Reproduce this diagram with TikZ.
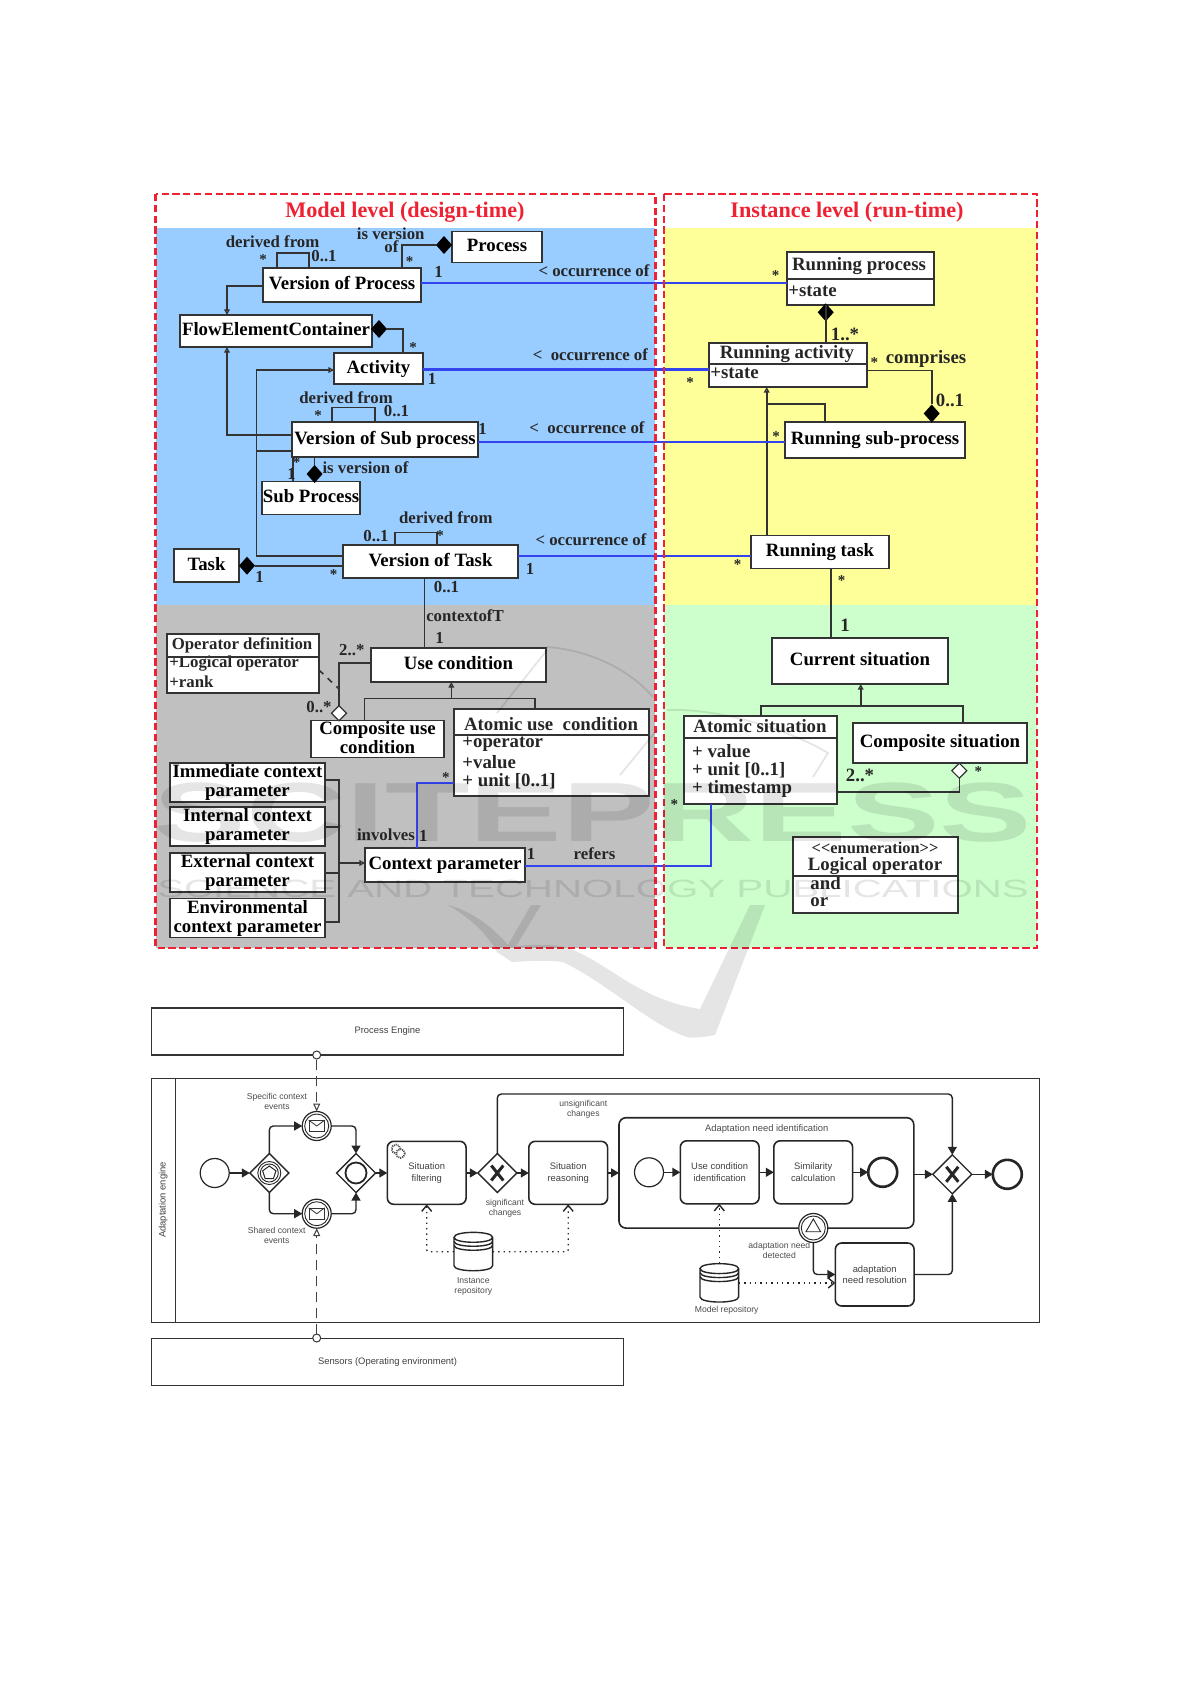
\documentclass[tikz,border=0pt]{standalone}
\usepackage{fontspec}
\setmainfont{Liberation Serif}
\setsansfont{Liberation Sans}
\usetikzlibrary{arrows.meta,shapes.geometric}
\definecolor{modelblue}{HTML}{99CCFF}
\definecolor{modelgray}{HTML}{C0C0C0}
\definecolor{runyellow}{HTML}{FFFF99}
\definecolor{rungreen}{HTML}{CCFFCC}
\definecolor{framered}{HTML}{EE2233}
\definecolor{linkblue}{HTML}{3344EE}
\definecolor{umlgray}{HTML}{333333}
\newcommand{\umlfont}{\fontsize{9.4}{9.5}\selectfont\bfseries}
\newcommand{\labfont}{\fontsize{8.4}{9.5}\selectfont\bfseries}
\newcommand{\bpmnfont}{\fontsize{4.7}{5.8}\selectfont\sffamily}
\newcommand{\notefont}{\fontsize{4.3}{5}\selectfont\sffamily}
\tikzset{
  levelframe/.style={draw=framered,line width=1.1pt,dash pattern=on 3.6pt off 1.8pt},
  leveltitle/.style={text=framered,inner sep=0pt,font=\fontsize{11.1}{12}\selectfont\bfseries},
  umlbox/.style 2 args={draw=umlgray,fill=white,line width=.9pt,inner sep=0pt,outer sep=0pt,text depth=2pt,
    minimum width=#1*.5pt,minimum height=#2*.5pt,align=center,font=\umlfont},
  umltext/.style={inner sep=0pt,align=center,text=black!85,font=\umlfont},
  umllab/.style={umltext,font=\labfont},
  umlstar/.style={umltext,yshift=-1.5pt,font=\fontsize{7.5}{8}\selectfont\bfseries},
  umlattr/.style={umltext,anchor=west},
  umlconn/.style={draw=umlgray,line width=.8pt},
  gentip/.style={-{Triangle[fill=white,length=2.8pt,width=2.8pt]}},
  blackdia/.style={diamond,aspect=1,fill=black,inner sep=0pt,outer sep=0pt,minimum width=8pt,minimum height=9pt},
  whitedia/.style={diamond,aspect=1,draw=umlgray,fill=white,line width=.6pt,inner sep=0pt,outer sep=0pt,minimum width=7.5pt,minimum height=7.5pt},
  poolbox/.style 2 args={draw=black!80,line width=.7pt,inner sep=0pt,outer sep=0pt,
    minimum width=#1*.5pt,minimum height=#2*.5pt,text=black!75,font=\bpmnfont},
  taskbox/.style={draw=black!85,fill=white,rounded corners=3.2pt,line width=.8pt,inner sep=0pt,outer sep=0pt,
    minimum width=39.4pt,minimum height=31.5pt,align=center,text=black!75,font=\bpmnfont},
  evstart/.style={circle,draw=black!85,fill=white,line width=.6pt,inner sep=0pt,outer sep=0pt,minimum size=14.5pt},
  evend/.style={evstart,line width=1.3pt},
  evinner/.style={circle,draw=black!85,line width=.45pt,inner sep=0pt,outer sep=0pt,minimum size=#1*.5pt},
  gate/.style={diamond,aspect=1,draw=black!85,fill=white,line width=.7pt,inner sep=0pt,outer sep=0pt,minimum width=19.5pt,minimum height=19.5pt},
  note/.style={inner sep=0pt,align=center,text=black!70,font=\notefont},
  flow/.style={draw=black!85,line width=.7pt,rounded corners=2pt,-{Triangle[length=4pt,width=4.5pt]}},
  assoc/.style={draw=black!85,line width=.7pt,dotted,rounded corners=1pt,-{Straight Barb[length=3pt,width=5pt,sep=0pt]}},
  msgflow/.style={draw=black!75,line width=.5pt,dash pattern=on 5pt off 3pt,-{Triangle[fill=white,length=4pt,width=3.5pt]}},
  repo/.pic={
    \draw[black!85,line width=.7pt,fill=white] (-19.3,-14.4) -- (-19.3,14) .. controls (-19.3,20.7) and (19.3,20.7) .. (19.3,14) -- (19.3,-14.4)
      .. controls (19.3,-21) and (-19.3,-21) .. (-19.3,-14.4) .. controls (-19.3,-7.8) and (19.3,-7.8) .. (19.3,-14.4);
    \draw[black!85,line width=.7pt] (-19.3,-10.4) .. controls (-19.3,-3.8) and (19.3,-3.8) .. (19.3,-10.4);
    \draw[black!85,line width=.7pt] (-19.3,-6.4) .. controls (-19.3,.2) and (19.3,.2) .. (19.3,-6.4);
  }
}
\begin{document}
\begin{tikzpicture}[x=.5pt,y=-.5pt]
\useasboundingbox (0,0) rectangle (1191,1684);

\fill[modelblue] (156,228) rectangle (655,605);
\fill[modelgray] (156,605) rectangle (655,948);
\fill[runyellow] (664,228) rectangle (1037,605);
\fill[rungreen] (664,605) rectangle (1037,948);
\node[leveltitle] (titleM) at (405,212) {Model level (design-time)};
\node[leveltitle] (titleI) at (847,212) {Instance level (run-time)};

\begin{scope}
    \node[umlbox={90}{31}] (process) at (497,247) {Process};
    \node[umlbox={158}{34}] (vproc) at (342,285) {Version of Process};
    \node[umlbox={192}{32}] (flow) at (276,331) {FlowElementContainer};
    \node[umlbox={89}{31}] (activity) at (378.5,368.5) {Activity};
    \node[umlbox={186}{35}] (vsub) at (385,439.5) {Version of Sub process};
    \node[umlbox={98}{33}] (subproc) at (311,498) {Sub Process};
    \node[umlbox={65}{33}] (task) at (206.5,565.5) {Task};
    \node[umlbox={175}{33}] (vtask) at (430.5,561.5) {Version of Task};
    \node[umlbox={175}{34}] (usecond) at (458.5,665) {Use condition};
    \node[umlbox={133}{37}] (compcond) at (377.5,739) {Composite use\\condition};
    \node[umlbox={152}{59}] (opdef) at (243,663.5) {};
    \node[umlbox={195}{87}] (atomcond) at (551.5,752.5) {};
    \node[umlbox={155}{39}] (immed) at (247.5,782.5) {Immediate context\\parameter};
    \node[umlbox={155}{39}] (internal) at (247.5,826.5) {Internal context\\parameter};
    \node[umlbox={155}{39}] (external) at (247.5,872.5) {External context\\parameter};
    \node[umlbox={155}{39}] (environ) at (247.5,918) {Environmental\\context parameter};
    \node[umlbox={160}{34}] (ctxparam) at (445,865) {Context parameter};
    \node[umlbox={147}{53}] (rproc) at (860.5,278.5) {};
    \node[umlbox={158}{44}] (ractiv) at (788,365) {};
    \node[umlbox={180}{36}] (rsub) at (875,440) {Running sub-process};
    \node[umlbox={138}{33}] (rtask) at (820,552) {Running task};
    \node[umlbox={176}{46}] (cursit) at (860,661) {Current situation};
    \node[umlbox={153}{88}] (atomsit) at (760.5,760) {};
    \node[umlbox={174}{40}] (compsit) at (940,743) {Composite situation};
    \node[umlbox={165}{76}] (logop) at (875.5,875) {};
\end{scope}

\begin{scope}[every node/.style={umltext}]
    \node[umllab] (opdefT) at (242,645.7) {Operator definition};
    \node (atomcondT) at (551,724) {Atomic use \ condition};
    \node (rprocT) at (859,266) {Running process};
    \node (ractivT) at (787,354) {Running activity};
    \node (atomsitT) at (760,726) {Atomic situation};
    \node (enumT) at (875,848) {\fontsize{8.2}{9}\selectfont {<}{<}enumeration{>}{>}};
    \node (logopT) at (875,866) {Logical operator};
\end{scope}

\begin{scope}[every node/.style={umlattr}]
    \node[font=\labfont] (opdefA) at (169,664) {+Logical operator};
    \node[font=\labfont] (opdefB) at (169,681.7) {+rank};
    \node (atomcondA) at (462,744) {+operator};
    \node (atomcondB) at (462,762) {+value};
    \node (atomcondC) at (462,781) {+ unit [0..1]};
    \node (rprocA) at (788,291) {+state};
    \node (ractivA) at (710,373) {+state};
    \node (atomsitA) at (691.7,751) {+ value};
    \node (atomsitB) at (691.7,770) {+ unit [0..1]};
    \node (atomsitC) at (691.7,789) {+ timestamp};
    \node (logopA) at (810,883) {and};
    \node (logopB) at (810,901.7) {or};
\end{scope}

\node[blackdia] (diaProc) at (444,245) {};
\node[blackdia] (diaFlow) at (379,329) {};
\node[blackdia] (diaSub) at (314.6,474) {};
\node[blackdia] (diaTask) at (247,565.7) {};
\node[blackdia] (diaRproc) at (825.7,312.3) {};
\node[blackdia] (diaRsub) at (931.7,413.5) {};
\node[whitedia] (diaOp) at (339,713.3) {};
\node[whitedia] (diaSit) at (959.3,770.7) {};

\begin{scope}[umlconn]
    \draw (opdef.west |- 0,657) -- (opdef.east |- 0,657);
    \draw (atomcond.west |- 0,735) -- (atomcond.east |- 0,735);
    \draw (rproc.west |- 0,279) -- (rproc.east |- 0,279);
    \draw (ractiv.west |- 0,364) -- (ractiv.east |- 0,364);
    \draw (atomsit.west |- 0,738) -- (atomsit.east |- 0,738);
    \draw (logop.west |- 0,876) -- (logop.east |- 0,876);
    \draw (vproc.north -| 277,0) -- (277,253) -- (309,253) -- (vproc.north -| 309,0);
    \draw (vproc.north -| 402,0) |- (diaProc.west);
    \draw[gentip] (vproc.west |- 0,286) -| (flow.north -| 227,0);
    \draw (diaFlow.east) -| (activity.north -| 403,0);
    \draw[gentip] (vsub.west |- 0,435) -| (flow.south -| 227,0);
    \draw[gentip] (vtask.west |- 0,555.7) -| (256.4,370) -- (activity.west |- 0,370);
    \draw (256.4,450.7) -- (vsub.west |- 0,450.7);
    \draw (vsub.north -| 332,0) -- (332,407.7) -- (375,407.7) -- (vsub.north -| 375,0);
    \draw (vsub.south -| 293,0) -- (subproc.north -| 293,0);
    \draw (vsub.south -| diaSub.north) -- (diaSub.north);
    \draw (diaTask.east) -- (vtask.west |- diaTask.east);
    \draw (vtask.north -| 394.8,0) -- (394.8,532.3) -- (436.8,532.3) -- (vtask.north -| 436.8,0);
    \draw (vtask.south -| 424.4,0) -- (usecond.north -| 424.4,0);
    \draw (usecond.west |- 0,662.7) -| (diaOp.north);
    \draw[dashed] (opdef.east |- 0,670) -- (339,689);
    \draw[gentip] (364.5,720) -- (364.5,698.3) -- (451.3,698.3) -- (usecond.south -| 451.3,0);
    \draw (451.3,698.3) -- (535,698.3) -- (atomcond.north -| 535,0);
    \draw (immed.east |- 0,780) -- (339,780) -- (339,922) -- (environ.east |- 0,922);
    \draw (internal.east |- 0,826.7) -- (339,826.7);
    \draw (external.east |- 0,873) -- (339,873);
    \draw[gentip] (339,863) -- (ctxparam.west |- 0,863);
    \draw (rproc.south -| diaRproc.south) -- (diaRproc.south);
    \draw (diaRproc.south) -- (ractiv.north -| diaRproc.south);
    \draw (ractiv.east |- 0,370.7) -| (diaRsub.north);
    \draw[gentip] (rtask.north -| 766.7,0) -- (ractiv.south -| 766.7,0);
    \draw (766.7,404.3) -- (825,404.3) -- (rsub.north -| 825,0);
    \draw (rtask.south -| 830.7,0) -- (cursit.north -| 830.7,0);
    \draw[gentip] (760.7,716) -- (760.7,706) -- (860.7,706) -- (cursit.south -| 860.7,0);
    \draw (860.7,706) -- (962.7,706) -- (compsit.north -| 962.7,0);
    \draw (atomsit.east |- 0,791.7) -| (diaSit.south);
\end{scope}

\begin{scope}[every edge/.style={draw=linkblue,line width=1.2pt}]
    \path [-] (vproc.east |- 0,283) edge (rproc.west |- 0,283);
    \path [-] (activity.east |- 0,369.5) edge (ractiv.west |- 0,369.5);
    \path [-] (vsub.east |- 0,442) edge (rsub.west |- 0,442);
    \path [-] (vtask.east |- 0,555.7) edge (rtask.west |- 0,555.7);
\end{scope}
\draw[draw=linkblue,line width=1.2pt] (ctxparam.east |- 0,866) -| (atomsit.south -| 711,0);
\draw[draw=linkblue,line width=1.2pt] (ctxparam.north -| 417,0) |- (atomcond.west |- 0,783);

\begin{scope}[every node/.style={umllab}]
    \node (lab1) at (272.6,242) {derived from};
    \node[umlstar] (lab2) at (263,257) {*};
    \node (lab3) at (324,256) {0..1};
    \node (lab4) at (390.7,234) {is version};
    \node (lab5) at (391.4,246.7) {of};
    \node[umlstar] (lab6) at (409.6,259) {*};
    \node (lab7) at (438.6,272) {1};
    \node (lab8) at (594,271) {< occurrence of};
    \node[umlstar] (lab9) at (413,345) {*};
    \node (lab10) at (590.4,355) {< \ occurrence of};
    \node (lab11) at (432,379) {1};
    \node (lab12) at (346,397.7) {derived from};
    \node[umlstar] (lab13) at (318,412.7) {*};
    \node (lab14) at (396.5,410.7) {0..1};
    \node (lab15) at (482.6,429.3) {1};
    \node (lab16) at (587,427.7) {< \ occurrence of};
    \node[umlstar] (lab17) at (296.7,460) {*};
    \node (lab18) at (291.5,474) {1};
    \node (lab19) at (365.5,467.7) {is version of};
    \node (lab20) at (445.8,517.7) {derived from};
    \node (lab21) at (376,535.7) {0..1};
    \node[umlstar] (lab22) at (440,533) {*};
    \node (lab23) at (591,540) {< occurrence of};
    \node (lab24) at (530,569) {1};
    \node[umlstar] (lab25) at (333.5,571.7) {*};
    \node (lab26) at (259.5,576.7) {1};
    \node (lab27) at (446.5,586.7) {0..1};
    \node (lab28) at (465,615.7) {contextofT};
    \node (lab29) at (439.6,638.3) {1};
    \node (lab30) at (351.8,650) {2..*};
    \node (lab31) at (319,707.3) {0..*};
    \node[umlstar] (lab32) at (445.8,775) {*};
    \node (lab33) at (386,834.3) {involves};
    \node (lab34) at (423.4,836) {1};
    \node (lab35) at (531,854.3) {1};
    \node (lab36) at (594.5,854) {refers};
\end{scope}

\begin{scope}[every node/.style={umltext}]
    \node[umlstar] (lab37) at (775.7,272.3) {*};
    \node (lab38) at (845,334) {1..*};
    \node[umlstar] (lab39) at (690,380) {*};
    \node[umlstar] (lab40) at (874.3,360) {*};
    \node (lab41) at (926,359) {comprises};
    \node (lab42) at (950,400) {0..1};
    \node[umlstar] (lab43) at (776,434) {*};
    \node[umlstar] (lab44) at (737.7,561.7) {*};
    \node[umlstar] (lab45) at (841.7,577.7) {*};
    \node (lab46) at (845,625) {1};
    \node[umlstar] (lab47) at (674.3,801.7) {*};
    \node (lab48) at (860,775) {2..*};
    \node[umlstar] (lab49) at (978.3,769) {*};
\end{scope}

\draw[levelframe] (155.5,194) rectangle (655.5,948);
\draw[levelframe] (664,194) rectangle (1037,948);

\node[poolbox={471.6}{47}] (engine) at (387.5,1031.5) {Process Engine};
\node[poolbox={471.6}{47}] (sensors) at (387.5,1361.8) {Sensors (Operating environment)};
\node[poolbox={887.6}{243.6}] (pool) at (595.5,1200.5) {};
\node[rotate=90,inner sep=0pt,text=black!75,font=\bpmnfont] (poolT) at (163.3,1200) {Adaptation engine};
\draw[draw=black!80,line width=.7pt] (pool.north -| 175.3,0) -- (pool.south -| 175.3,0);
\node[circle,draw=black!80,fill=white,line width=.5pt,inner sep=0pt,minimum size=4pt] (portE) at (316.7,1055) {};
\node[circle,draw=black!80,fill=white,line width=.5pt,inner sep=0pt,minimum size=4pt] (portS) at (316.7,1338) {};

\node[evstart] (startA) at (214.7,1173) {};
\node[gate] (gwEvent) at (269.3,1173) {};
\node[evinner=23] (gwEventA) at (gwEvent) {};
\node[evinner=18] (gwEventB) at (gwEvent) {};
\node[regular polygon,regular polygon sides=5,draw=black!85,line width=.5pt,inner sep=0pt,minimum size=7pt] (gwEventC) at (gwEvent) {};
\node[evstart] (msgT) at (316.7,1126) {};
\node[evinner=24] (msgTa) at (msgT) {};
\node[draw=black!80,line width=.4pt,inner sep=0pt,minimum width=7.6pt,minimum height=5.5pt] (envT) at (msgT) {};
\draw[draw=black!80,line width=.4pt] (envT.north west) -- (envT.center) -- (envT.north east);
\node[evstart] (msgB) at (316.7,1213.7) {};
\node[evinner=24] (msgBa) at (msgB) {};
\node[draw=black!80,line width=.4pt,inner sep=0pt,minimum width=7.6pt,minimum height=5.5pt] (envB) at (msgB) {};
\draw[draw=black!80,line width=.4pt] (envB.north west) -- (envB.center) -- (envB.north east);
\node[gate] (gwJoin) at (356,1173) {};
\node[circle,draw=black!85,line width=.9pt,inner sep=0pt,minimum size=10.5pt] (gwJoinA) at (gwJoin) {};
\node[taskbox] (filter) at (426.7,1172.8) {Situation\\filtering};
\node[circle,draw=black!70,line width=.9pt,dash pattern=on .5pt off .5pt,inner sep=0pt,minimum size=4.4pt] (gearA) at (396,1149) {};
\node[circle,draw=black!70,fill=white,line width=.9pt,dash pattern=on .5pt off .5pt,inner sep=0pt,minimum size=4.4pt] (gearB) at (400.5,1153.5) {};
\node[gate] (xorA) at (497.3,1173) {};
\draw[line width=1.5pt,black!85] (xorA.center) +(-6,-7.5) -- +(6,7.5) +(6,-7.5) -- +(-6,7.5);
\node[taskbox] (reason) at (568.2,1172.8) {Situation\\reasoning};
\node[draw=black!85,fill=white,rounded corners=3.5pt,line width=.8pt,inner sep=0pt,outer sep=0pt,minimum width=147.4pt,minimum height=55.2pt] (subp) at (766.4,1172.9) {};
\node[note,font=\bpmnfont] (subpT) at (766.7,1128.7) {Adaptation need identification};
\node[evstart] (startB) at (649,1172.3) {};
\node[taskbox] (usecid) at (719.7,1172.3) {Use condition\\identification};
\node[taskbox] (simil) at (813.2,1172.3) {Similarity\\calculation};
\node[evend] (endB) at (882.7,1172.3) {};
\node[evstart] (bound) at (813.3,1228) {};
\node[evinner=24] (boundA) at (bound) {};
\node[regular polygon,regular polygon sides=3,draw=black!85,line width=.45pt,inner sep=0pt,minimum size=8.5pt] (boundB) at (813.3,1227.5) {};
\node[gate] (xorB) at (952.3,1174.3) {};
\draw[line width=1.5pt,black!85] (xorB.center) +(-6,-7.5) -- +(6,7.5) +(6,-7.5) -- +(-6,7.5);
\node[evend] (endA) at (1007.3,1174.3) {};
\node[taskbox] (resol) at (874.7,1274.5) {adaptation\\need resolution};
\node[inner sep=0pt,outer sep=0pt,minimum size=19.4pt] (irepo) at (473.3,1251.7) {};
\pic at (irepo) {repo};
\node[inner sep=0pt,outer sep=0pt,minimum size=19.4pt] (mrepo) at (719.3,1283) {};
\pic at (mrepo) {repo};

\draw[flow] (startA) -- (gwEvent);
\draw[flow] (gwEvent.north) |- (msgT.west);
\draw[flow] (gwEvent.south) |- (msgB.west);
\draw[flow] (msgT.east) -| (gwJoin.north);
\draw[flow] (msgB.east) -| (gwJoin.south);
\draw[flow] (gwJoin.east) -- (filter.west |- gwJoin.east);
\draw[flow] (filter.east |- xorA.west) -- (xorA.west);
\draw[flow] (xorA.east) -- (reason.west |- xorA.east);
\draw[flow] (reason.east |- subp.west) -- (subp.west);
\draw[flow] (xorA.north) -- (xorA.north |- 0,1094) -- (xorB.north |- 0,1094) -- (xorB.north);
\draw[flow] (startB) -- (usecid);
\draw[flow] (usecid) -- (simil);
\draw[flow] (simil) -- (endB);
\draw[flow] (subp.east |- xorB.west) -- (xorB.west);
\draw[flow] (xorB.east) -- (endA.west);
\draw[flow] (bound.south) |- (resol.west);
\draw[flow] (resol.east) -| (xorB.south);
\draw[assoc] (irepo.west) -| (filter.south);
\draw[assoc] (irepo.east) -| (reason.south);
\draw[assoc] (mrepo.north) -- (usecid.south -| mrepo.north);
\draw[assoc] (mrepo.east) -- (resol.west |- mrepo.east);
\draw[msgflow] (portE) -- (msgT.north);
\draw[msgflow] (portS) -- (msgB.south);

\begin{scope}[every node/.style={note}]
    \node (noteA) at (277,1101) {Specific context\\events};
    \node (noteB) at (276.7,1235) {Shared context\\events};
    \node (noteC) at (473.3,1286.8) {Instance\\repository};
    \node (noteD) at (505,1208.2) {significant\\changes};
    \node (noteE) at (583.3,1109.2) {unsignificant\\changes};
    \node (noteF) at (726.7,1310) {Model repository};
    \node (noteG) at (779.3,1250.7) {adaptation need\\detected};
\end{scope}

\begin{scope}[opacity=.1]
    \node[inner sep=0pt,xscale=1.65,text=black,font=\fontsize{42}{44}\selectfont\sffamily\bfseries] (markA) at (593,813) {SCITEPRESS};
    \node[inner sep=0pt,xscale=1.61,text=black,font=\fontsize{12.5}{14}\selectfont\sffamily] (markB) at (593,889) {SCIENCE AND TECHNOLOGY PUBLICATIONS};
    \fill[black] (448,905) .. controls (475,912) and (495,930) .. (508,945) -- (531,905) -- (541,905) -- (516,946)
      .. controls (540,944) and (560,944) .. (573,950) .. controls (610,965) and (640,1000) .. (700,1009)
      -- (750,905) -- (765,905) -- (715,1035) .. controls (700,1038) and (690,1038) .. (687,1037)
      .. controls (650,1025) and (610,985) .. (563,962) .. controls (545,960) and (530,961) .. (512,962) -- (497,952)
      .. controls (485,930) and (465,915) .. (448,905) -- cycle;
    \draw[black,line width=.9pt] (547,647) .. controls (590,650) and (630,670) .. (653,697);
    \draw[black,line width=.9pt] (547,650) -- (497,713);
    \draw[black,line width=.9pt] (620,775) -- (657,730);
    \draw[black,line width=.9pt] (667,710) .. controls (720,708) and (790,730) .. (828,753) -- (813,777);
\end{scope}
\end{tikzpicture}
\end{document}
